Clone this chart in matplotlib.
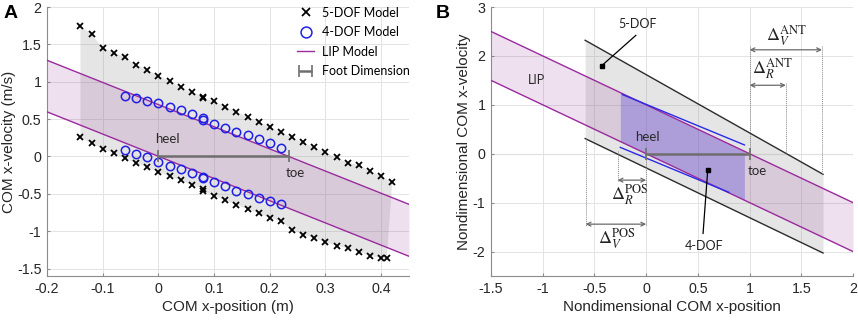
import numpy as np
import matplotlib
matplotlib.use('Agg')
import matplotlib.pyplot as plt

plt.rcParams['font.family'] = ['Liberation Sans', 'DejaVu Sans']
plt.rcParams['mathtext.fontset'] = 'stix'

# ---- panel A data ----
dof5_x_up = [-0.14, -0.12, -0.10, -0.08, -0.06, -0.04, -0.02, 0.00, 0.02, 0.04, 0.06, 0.08, 0.08,
             0.10, 0.12, 0.14, 0.16, 0.18, 0.20, 0.22, 0.24, 0.26, 0.28, 0.30, 0.32, 0.34, 0.36,
             0.38, 0.40, 0.42]
dof5_v_up = [1.745, 1.634, 1.456, 1.389, 1.331, 1.224, 1.158, 1.082, 1.006, 0.926, 0.859, 0.801, 0.780,
             0.739, 0.668, 0.597, 0.530, 0.459, 0.392, 0.321, 0.254, 0.187, 0.120, 0.053, -0.013,
             -0.085, -0.116, -0.191, -0.267, -0.343]
dof5_x_lo = [-0.14, -0.12, -0.10, -0.08, -0.06, -0.04, -0.02, 0.00, 0.02, 0.04, 0.06, 0.08, 0.08,
             0.10, 0.12, 0.14, 0.16, 0.18, 0.20, 0.22, 0.24, 0.26, 0.28, 0.30, 0.32, 0.34, 0.36,
             0.38, 0.40, 0.41]
dof5_v_lo = [0.258, 0.174, 0.102, 0.040, -0.027, -0.089, -0.147, -0.209, -0.267, -0.321, -0.378, -0.432, -0.467,
             -0.525, -0.588, -0.646, -0.703, -0.761, -0.819, -0.868, -0.984, -1.046, -1.095, -1.149, -1.193,
             -1.229, -1.273, -1.331, -1.362, -1.362]

dof4_x = [-0.06, -0.04, -0.02, 0.00, 0.02, 0.04, 0.06, 0.08, 0.08, 0.10, 0.12, 0.14, 0.16, 0.18, 0.20, 0.22]
dof4_v_up = [0.810, 0.784, 0.748, 0.712, 0.668, 0.619, 0.565, 0.512, 0.490, 0.432, 0.378, 0.325, 0.285,
             0.232, 0.174, 0.116]
dof4_v_lo = [0.089, 0.031, -0.009, -0.076, -0.125, -0.174, -0.227, -0.280, -0.295, -0.347, -0.401, -0.459,
             -0.508, -0.557, -0.597, -0.632]

lip_x = [-0.2, 0.45]
lip_v_up = [1.287, -0.641]
lip_v_lo = [0.597, -1.336]
heel_a, toe_a = 0.0, 0.234

# ---- panel B data (nondimensional) ----
lip_x_nd = [-1.5, 2.0]
lip_up_nd = [2.5, -1.0]
lip_lo_nd = [1.5, -2.0]
dof5_x_nd = [-0.59, 1.71]
dof5_up_nd = [2.32, -0.42]
dof5_lo_nd = [0.31, -2.03]
dof4_xup_nd = [-0.23, 0.95]
dof4_up_nd = [1.21, 0.18]
dof4_xlo_nd = [-0.25, 0.80]
dof4_lo_nd = [0.13, -0.79]
dof4_fill_x = [-0.25, 0.95]
heel_b, toe_b = 0.0, 1.0
# margins: (x_start, x_end, y of arrow, label, label x, label y)
margins = [(1.0, 1.70, 2.125, r'$\Delta_{V}^{\mathrm{ANT}}$', 1.36, 2.42),
           (1.0, 1.35, 1.40, r'$\Delta_{R}^{\mathrm{ANT}}$', 1.22, 1.74),
           (-0.276, 0.0, -0.54, r'$\Delta_{R}^{\mathrm{POS}}$', -0.16, -0.83),
           (-0.585, 0.0, -1.44, r'$\Delta_{V}^{\mathrm{POS}}$', -0.28, -1.73)]
# dotted guide lines: (x, y_top, y_bottom)
guides = [(1.0, 2.2, 0.0), (1.70, 2.2, -0.42), (1.35, 1.45, 0.0),
          (-0.276, 0.05, -0.58), (0.0, 0.0, -1.47), (-0.585, 0.31, -1.47)]

gray_fill = (0.5, 0.5, 0.5)
purple = '#9a2a9e'
txt_col = '#262626'
lbl_font = ['Lato', 'DejaVu Sans']

fig = plt.figure(figsize=(8.58, 3.2), dpi=100)
axA = fig.add_axes([0.0548, 0.1375, 0.4219, 0.8406])
axB = fig.add_axes([0.5723, 0.1375, 0.4219, 0.8406])


def style_axis(ax):
    ax.grid(True, color='#e3e3e3', lw=0.7, zorder=0)
    ax.set_axisbelow(True)
    for s in ['top', 'right']:
        ax.spines[s].set_visible(False)
    for s in ['left', 'bottom']:
        ax.spines[s].set_color('#8c8c8c')
        ax.spines[s].set_linewidth(0.8)
    ax.tick_params(direction='in', length=2.5, color='#8c8c8c', labelsize=10.3, labelcolor=txt_col, pad=4)


# ---------------- panel A ----------------
ax = axA
style_axis(ax)
poly_x = dof5_x_up + dof5_x_lo[::-1]
poly_v = dof5_v_up + dof5_v_lo[::-1]
ax.fill(poly_x, poly_v, color=gray_fill, alpha=0.2, lw=0, zorder=1)
ax.fill_between(lip_x, lip_v_up, lip_v_lo, color=(0.6, 0.2, 0.6), alpha=0.15, lw=0, zorder=2)
ax.plot(lip_x, lip_v_up, color=purple, lw=1.0, zorder=3, label='LIP Model')
ax.plot(lip_x, lip_v_lo, color=purple, lw=1.0, zorder=3)
ax.plot(dof5_x_up + dof5_x_lo, dof5_v_up + dof5_v_lo, 'x', color='k', ms=4, mew=1.3, zorder=4,
        label='5-DOF Model')
ax.plot(dof4_x + dof4_x, dof4_v_up + dof4_v_lo, 'o', mfc='none', mec='#1f1fe6', ms=6, mew=1.1, zorder=5,
        label='4-DOF Model')
ax.errorbar([(heel_a + toe_a) / 2], [0], xerr=[(toe_a - heel_a) / 2], fmt='none', ecolor='#6e6e6e',
            elinewidth=1.8, capsize=4, capthick=1.2, zorder=6, label='Foot Dimension')
ax.text(heel_a + 0.017, 0.23, 'heel', ha='center', va='center', fontsize=9.5, color='#2a2a2a', family=lbl_font)
ax.text(toe_a + 0.011, -0.22, 'toe', ha='center', va='center', fontsize=9.5, color='#2a2a2a', family=lbl_font)
h, l = ax.get_legend_handles_labels()
order = [l.index(k) for k in ['5-DOF Model', '4-DOF Model', 'LIP Model', 'Foot Dimension']]
ax.legend([h[i] for i in order], [l[i] for i in order], loc='upper left', frameon=False,
          prop={'family': lbl_font, 'size': 9}, handlelength=1.4, handletextpad=0.6, markerscale=1.3,
          labelspacing=0.6, borderaxespad=0.0, borderpad=0.3, bbox_to_anchor=(0.68, 1.015))
ax.set_xlim(-0.2, 0.45)
ax.set_ylim(-1.6, 2)
ax.set_xticks(np.arange(-0.2, 0.41, 0.1))
ax.set_xticklabels(['-0.2', '-0.1', '0', '0.1', '0.2', '0.3', '0.4'])
ax.set_yticks(np.arange(-1.5, 2.01, 0.5))
ax.set_yticklabels(['-1.5', '-1', '-0.5', '0', '0.5', '1', '1.5', '2'])
ax.set_xlabel('COM x-position (m)', fontsize=11, color=txt_col, labelpad=3)
ax.set_ylabel('COM x-velocity (m/s)', fontsize=11, color=txt_col, labelpad=1)

# ---------------- panel B ----------------
ax = axB
style_axis(ax)
ax.axhline(0, color='#bdbdbd', lw=0.8, zorder=0.5)
ax.fill_between(dof5_x_nd, dof5_up_nd, dof5_lo_nd, color=gray_fill, alpha=0.2, lw=0, zorder=1)
ax.fill_between(lip_x_nd, lip_up_nd, lip_lo_nd, color=(0.6, 0.2, 0.6), alpha=0.15, lw=0, zorder=2)
fx = np.array(dof4_fill_x)
f_up = np.interp(fx, lip_x_nd, lip_up_nd)
f_lo = np.interp(fx, lip_x_nd, lip_lo_nd)
ax.fill_between(fx, f_up, f_lo, color=(0.38, 0.32, 0.85), alpha=0.36, lw=0, zorder=2.5)
ax.plot(dof5_x_nd, dof5_up_nd, color='#2b2b2b', lw=1.0, zorder=3)
ax.plot(dof5_x_nd, dof5_lo_nd, color='#2b2b2b', lw=1.0, zorder=3)
ax.plot(lip_x_nd, lip_up_nd, color=purple, lw=1.0, zorder=3)
ax.plot(lip_x_nd, lip_lo_nd, color=purple, lw=1.0, zorder=3)
ax.plot(dof4_xup_nd, dof4_up_nd, color='#2a2ae8', lw=1.0, zorder=3.5)
ax.plot(dof4_xlo_nd, dof4_lo_nd, color='#2a2ae8', lw=1.0, zorder=3.5)
ax.errorbar([(heel_b + toe_b) / 2], [0], xerr=[(toe_b - heel_b) / 2], fmt='none', ecolor='#6e6e6e',
            elinewidth=1.8, capsize=4, capthick=1.2, zorder=6)

for gx, gy0, gy1 in guides:
    ax.plot([gx, gx], [gy0, gy1], ls=(0, (1, 1)), color='#8a8a8a', lw=0.7, zorder=4)
for x0, x1, y, lab, tx, ty in margins:
    ax.annotate('', xy=(x1, y), xytext=(x0, y),
                arrowprops=dict(arrowstyle='<->', color='#6a6a6a', lw=0.9, shrinkA=0, shrinkB=0,
                                mutation_scale=7), zorder=5)
    ax.text(tx, ty, lab, ha='center', va='center', fontsize=13, color='#222222')

ax.plot([-0.43], [1.80], 's', color='k', ms=2.8, zorder=7)
ax.plot([-0.43, -0.10], [1.80, 2.42], color='k', lw=0.9, zorder=7)
ax.text(-0.08, 2.65, '5-DOF', ha='center', va='center', fontsize=9, color='#222222', family=lbl_font)
ax.plot([0.595], [-0.34], 's', color='k', ms=2.8, zorder=7)
ax.plot([0.595, 0.55], [-0.34, -1.63], color='k', lw=0.9, zorder=7)
ax.text(0.56, -1.89, '4-DOF', ha='center', va='center', fontsize=9, color='#222222', family=lbl_font)
ax.text(-1.06, 1.50, 'LIP', ha='center', va='center', fontsize=9, color='#2a2a2a', family=lbl_font)
ax.text(0.01, 0.35, 'heel', ha='center', va='center', fontsize=9.5, color='#2a2a2a', family=lbl_font)
ax.text(1.07, -0.36, 'toe', ha='center', va='center', fontsize=9.5, color='#2a2a2a', family=lbl_font)

ax.set_xlim(-1.5, 2)
ax.set_ylim(-2.5, 3)
ax.set_xticks(np.arange(-1.5, 2.01, 0.5))
ax.set_xticklabels(['-1.5', '-1', '-0.5', '0', '0.5', '1', '1.5', '2'])
ax.set_yticks(np.arange(-2, 3.01, 1))
ax.set_yticklabels(['-2', '-1', '0', '1', '2', '3'])
ax.set_xlabel('Nondimensional COM x-position', fontsize=11, color=txt_col, labelpad=3)
ax.set_ylabel('Nondimensional COM x-velocity', fontsize=11, color=txt_col, labelpad=1)

fig.text(0.004, 0.985, 'A', fontsize=14, fontweight='bold', va='top', ha='left')
fig.text(0.508, 0.985, 'B', fontsize=14, fontweight='bold', va='top', ha='left')

fig.savefig('out.png', dpi=100)
